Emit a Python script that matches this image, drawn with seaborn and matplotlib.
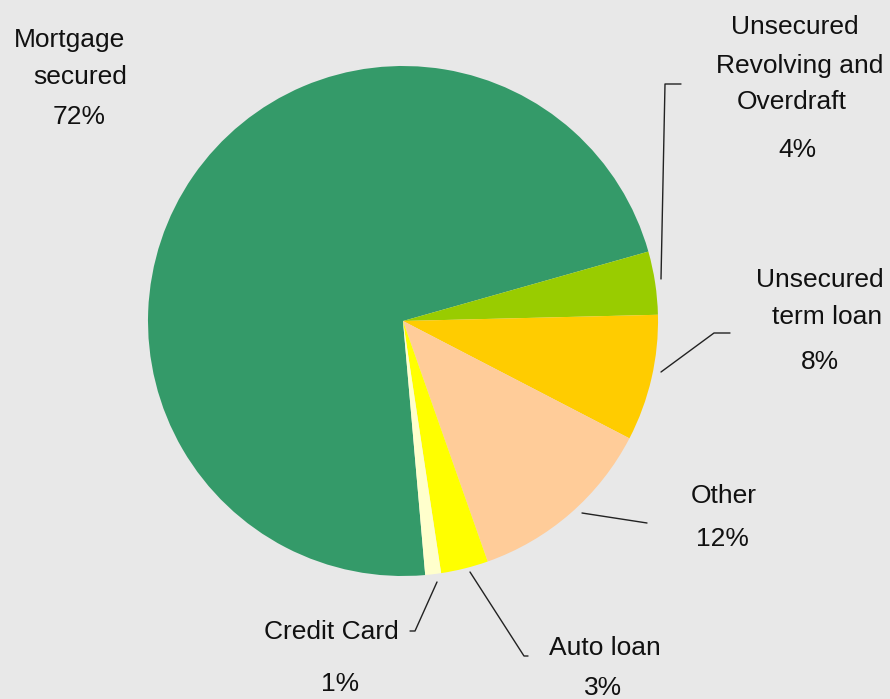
import matplotlib
matplotlib.use("Agg")
import matplotlib.pyplot as plt
import seaborn as sns

# Consumer lending mix by product
categories = ["Mortgage secured", "Unsecured Revolving and Overdraft",
              "Unsecured term loan", "Other", "Auto loan", "Credit Card"]
shares = [72, 4, 8, 12, 3, 1]
pct_labels = ["72%", "4%", "8%", "12%", "3%", "1%"]
name_lines = [["Mortgage", "secured"],
              ["Unsecured", "Revolving and", "Overdraft"],
              ["Unsecured", "term loan"],
              ["Other"],
              ["Auto loan"],
              ["Credit Card"]]
colors = ["#349a69", "#99cc00", "#ffcc00", "#ffcc99", "#ffff00", "#ffffcc"]

sns.set_theme(style="white")
plt.rcParams["font.family"] = ["Liberation Sans", "DejaVu Sans"]

W, H = 890, 699
BG = "#e8e8e8"
fig = plt.figure(figsize=(W / 100, H / 100), dpi=100, facecolor=BG)
ax = fig.add_axes([0, 0, 1, 1])
ax.set_facecolor(BG)

def py(y):
    # pixel row (top-down) to axis y
    return H - y

explode = [0, 0, 0.016, 0, 0, 0]
ax.pie(shares, colors=colors, startangle=275, counterclock=False,
       center=(403, py(321)), radius=255, explode=explode,
       wedgeprops=dict(linewidth=0))
ax.set_xlim(0, W)
ax.set_ylim(0, H)
ax.set_aspect("equal")
ax.axis("off")

fs = 19
# label layout: (x, y) of each name line, then the percentage position
name_pos = [[(70, 40), (80, 77)],
            [(795, 27), (800, 66), (792, 102)],
            [(820, 280), (827, 317)],
            [(724, 496)],
            [(605, 648)],
            [(331, 632)]]
pct_pos = [(79, 117), (797, 150), (820, 362), (722, 539), (603, 688), (340, 684)]

for lines, poss, pct, ppos in zip(name_lines, name_pos, pct_labels, pct_pos):
    for txt, (x, y) in zip(lines, poss):
        ax.text(x, py(y), txt, ha="center", va="center", fontsize=fs, color="#111111")
    ax.text(ppos[0], py(ppos[1]), pct, ha="center", va="center", fontsize=fs, color="#111111")

# leader lines
leaders = [
    [(661, 279), (665, 84), (681, 84)],
    [(661, 372), (714, 333), (730, 333)],
    [(582, 513), (647, 523)],
    [(470, 572), (524, 656), (528, 656)],
    [(437, 582), (415, 631), (410, 631)],
]
for pts in leaders:
    xs = [p[0] for p in pts]
    ys = [py(p[1]) for p in pts]
    ax.plot(xs, ys, color="#222222", linewidth=1.0)

fig.savefig("out.png", dpi=100, facecolor=BG)
